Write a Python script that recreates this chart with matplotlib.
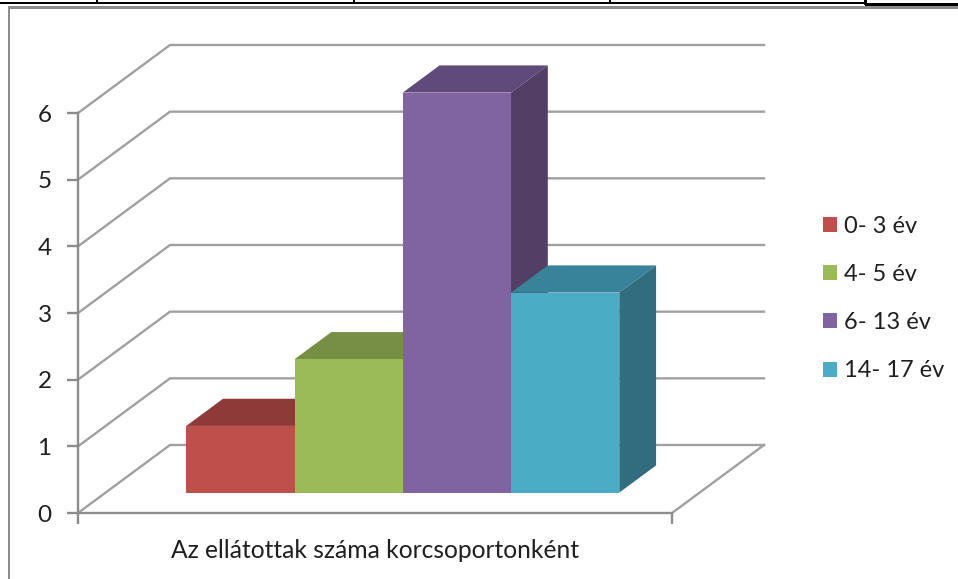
import matplotlib
matplotlib.use("Agg")
import matplotlib.pyplot as plt
from matplotlib.patches import Polygon, Rectangle

plt.rcParams['font.family'] = ['Lato', 'DejaVu Sans']

labels = ['0- 3 év', '4- 5 év', '6- 13 év', '14- 17 év']
values = [1, 2, 6, 3]
front_colors = ['#BE4F4B', '#9BBB59', '#8064A2', '#4BACC6']
top_colors = ['#8E3A38', '#778F45', '#604A7B', '#38839A']
side_colors = ['#7E3331', '#67803B', '#533F66', '#316D7E']
y_ticks = [0, 1, 2, 3, 4, 5, 6]
category_label = 'Az ellátottak száma korcsoportonként'

W, H = 958, 579
GRID = '#A0A0A0'
AXIS = '#8C8C8C'
TEXT = '#1F1F1F'

# floor depth vector in data units, 92 px right and 68 px up at full depth
DX = 92 / 108.25
DY = 68 / 66.67
BAR_MARGIN = 0.745
DEPTH_FRONT = 0.30
DEPTH_BACK = 0.70
X_MAX = 5.487


def project(x, v, d):
    return (x + d * DX, v + d * DY)


def box(ax, left, value, front, top, side):
    right = left + 1
    ax.add_patch(Polygon([project(left, 0, DEPTH_FRONT), project(right, 0, DEPTH_FRONT),
                          project(right, value, DEPTH_FRONT), project(left, value, DEPTH_FRONT)],
                         closed=True, fc=front, ec='none', zorder=5, clip_on=False))
    ax.add_patch(Polygon([project(left, value, DEPTH_FRONT), project(right, value, DEPTH_FRONT),
                          project(right, value, DEPTH_BACK), project(left, value, DEPTH_BACK)],
                         closed=True, fc=top, ec='none', zorder=4, clip_on=False))
    ax.add_patch(Polygon([project(right, 0, DEPTH_FRONT), project(right, value, DEPTH_FRONT),
                          project(right, value, DEPTH_BACK), project(right, 0, DEPTH_BACK)],
                         closed=True, fc=side, ec='none', zorder=4, clip_on=False))


fig = plt.figure(figsize=(W / 100, H / 100), dpi=100, facecolor='white')

# page furniture around the chart, in pixels
bg = fig.add_axes([0, 0, 1, 1])
bg.set_xlim(0, W)
bg.set_ylim(H, 0)
bg.axis('off')
bg.add_patch(Rectangle((8.5, 6), 2, H, fc=AXIS, ec='none'))
bg.add_patch(Rectangle((8.5, 6), W, 2.5, fc=AXIS, ec='none'))
bg.add_patch(Rectangle((0, 2), 866, 2, fc='black', ec='none'))
bg.add_patch(Rectangle((865, 3), W - 865, 3, fc='black', ec='none'))
bg.add_patch(Rectangle((864.5, 0), 3, 5, fc='black', ec='none'))
for px in [97, 354, 610]:
    bg.add_patch(Rectangle((px - 0.5, 0), 1.5, 3, fc='black', ec='none'))

ax = fig.add_axes([78 / W, 1 - 513 / H, 594 / W, 400 / H])
ax.set_xlim(0, X_MAX)
ax.set_ylim(0, 6)
ax.patch.set_alpha(0)
for s in ['top', 'right']:
    ax.spines[s].set_visible(False)
for s in ['left', 'bottom']:
    ax.spines[s].set_color(AXIS)
    ax.spines[s].set_linewidth(1.7)

# back wall gridlines and floor
for v in y_ticks:
    x0, y0 = project(0, v, 0)
    x1, y1 = project(0, v, 1)
    x2, y2 = project(X_MAX, v, 1)
    ax.plot([x0, x1, x2], [y0, y1, y2], color=GRID, lw=1.7, clip_on=False, zorder=1,
            solid_joinstyle='miter')
x1, y1 = project(X_MAX, 0, 0)
x2, y2 = project(X_MAX, 0, 1)
ax.plot([x1, x2], [y1, y2], color=GRID, lw=1.7, clip_on=False, zorder=1)

for i, v in enumerate(values):
    box(ax, BAR_MARGIN + i, v, front_colors[i], top_colors[i], side_colors[i])

ax.set_yticks(y_ticks)
ax.set_xticks([0, X_MAX])
ax.set_xticklabels([])
ax.tick_params(axis='y', length=8, width=1.7, color=AXIS, labelsize=17.5, labelcolor=TEXT, pad=11)
ax.tick_params(axis='x', direction='out', length=8, width=1.7, color=AXIS)
ax.set_xlabel(category_label, fontsize=17.7, color=TEXT)
ax.xaxis.set_label_coords((375 - 78) / 594, -26 / 400)

# legend
handles = [Rectangle((0, 0), 1, 1, fc=c, ec='none') for c in front_colors]
fig.legend(handles, labels, loc='upper left', bbox_to_anchor=(823 / W, 1 - 216 / H),
           frameon=False, fontsize=17, labelcolor=TEXT, handlelength=0.6, handleheight=0.6,
           handletextpad=0.3, labelspacing=1.15, borderpad=0, borderaxespad=0)

fig.savefig('out.png', dpi=100)
